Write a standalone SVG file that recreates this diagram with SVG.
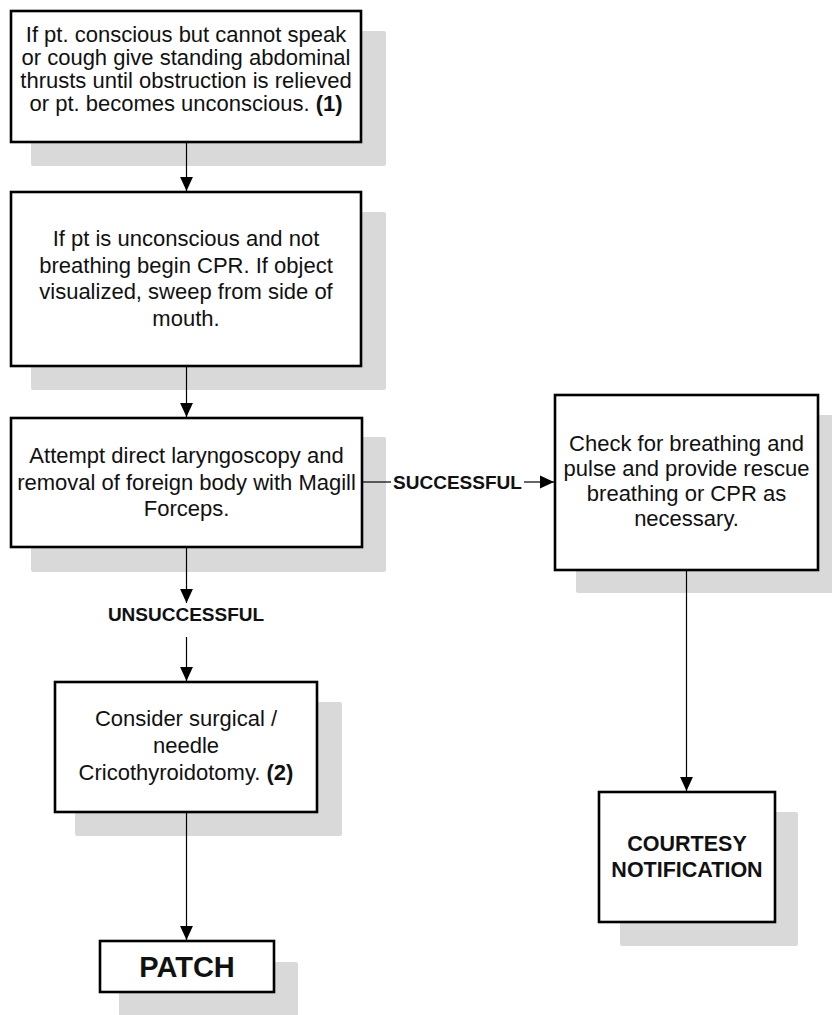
<svg xmlns="http://www.w3.org/2000/svg" width="832" height="1015" viewBox="0 0 832 1015">
  <style>
    .shadow { fill: #d9d9d9; }
    .box { fill: #ffffff; stroke: #000000; stroke-width: 2.6; }
    .txt { font-family: "Liberation Sans", Arial, sans-serif; font-size: 22px; fill: #111111; text-anchor: middle; }
    .b { font-weight: bold; }
    .lbl { font-family: "Liberation Sans", Arial, sans-serif; font-size: 19px; font-weight: bold; fill: #111111; text-anchor: middle; }
    .edge { fill: none; stroke: #000000; stroke-width: 1.2; }
  </style>
  <defs>
    <marker id="arrow" markerUnits="userSpaceOnUse" markerWidth="14" markerHeight="14" viewBox="0 0 12 12" refX="12" refY="6" orient="auto">
      <path d="M0,0.5 L12,6 L0,11.5 Z" fill="#000000"/>
    </marker>
  </defs>

  <rect width="832" height="1015" fill="#ffffff"/>

  <!-- step 1: standing abdominal thrusts -->
  <g id="node-thrusts">
    <rect class="shadow" x="31" y="31" width="355" height="135" rx="2"/>
    <rect class="box" x="11" y="11" width="350" height="131"/>
    <text class="txt" x="186" y="42">If pt. conscious but cannot speak<tspan x="186" dy="23">or cough give standing abdominal</tspan><tspan x="186" dy="23">thrusts until obstruction is relieved</tspan><tspan x="186" dy="23">or pt. becomes unconscious. <tspan class="b">(1)</tspan></tspan></text>
  </g>

  <!-- step 2: CPR -->
  <g id="node-cpr">
    <rect class="shadow" x="31" y="212" width="355" height="178" rx="2"/>
    <rect class="box" x="11" y="192" width="350" height="174"/>
    <text class="txt" x="186" y="246">If pt is unconscious and not<tspan x="186" dy="26.5">breathing begin CPR. If object</tspan><tspan x="186" dy="26.5">visualized, sweep from side of</tspan><tspan x="186" dy="26.5">mouth.</tspan></text>
  </g>

  <!-- step 3: direct laryngoscopy -->
  <g id="node-laryngoscopy">
    <rect class="shadow" x="31" y="437" width="355" height="135" rx="2"/>
    <rect class="box" x="11" y="418" width="351" height="129"/>
    <text class="txt" x="186.5" y="463">Attempt direct laryngoscopy and<tspan x="186.5" dy="26.5">removal of foreign body with Magill</tspan><tspan x="186.5" dy="26.5">Forceps.</tspan></text>
  </g>

  <!-- success branch -->
  <g id="node-check">
    <rect class="shadow" x="576" y="415" width="266" height="178" rx="2"/>
    <rect class="box" x="555" y="395" width="263" height="175"/>
    <text class="txt" x="686.5" y="451">Check for breathing and<tspan x="686.5" dy="25">pulse and provide rescue</tspan><tspan x="686.5" dy="25">breathing or CPR as</tspan><tspan x="686.5" dy="25">necessary.</tspan></text>
  </g>

  <g id="node-courtesy">
    <rect class="shadow" x="620" y="812" width="178" height="134" rx="2"/>
    <rect class="box" x="599" y="792" width="176" height="130"/>
    <text class="txt b" x="687" y="851" style="font-size:21.5px">COURTESY<tspan x="687" dy="26">NOTIFICATION</tspan></text>
  </g>

  <!-- failure branch -->
  <g id="node-cricothyroidotomy">
    <rect class="shadow" x="75" y="702" width="267" height="134" rx="2"/>
    <rect class="box" x="55" y="682" width="262" height="130"/>
    <text class="txt" x="186" y="726">Consider surgical /<tspan x="186" dy="27">needle</tspan><tspan x="186" dy="27">Cricothyroidotomy. <tspan class="b">(2)</tspan></tspan></text>
  </g>

  <g id="node-patch">
    <rect class="shadow" x="119" y="962" width="179" height="55" rx="2"/>
    <rect class="box" x="100" y="941" width="174" height="51"/>
    <text class="txt b" x="187" y="977" style="font-size:29px">PATCH</text>
  </g>

  <!-- connectors -->
  <g id="connectors">
    <line class="edge" x1="186.5" y1="143" x2="186.5" y2="191" marker-end="url(#arrow)"/>
    <line class="edge" x1="186.5" y1="367" x2="186.5" y2="417" marker-end="url(#arrow)"/>
    <line class="edge" x1="186.5" y1="548" x2="186.5" y2="603" marker-end="url(#arrow)"/>
    <text class="lbl" x="186" y="621">UNSUCCESSFUL</text>
    <line class="edge" x1="186.5" y1="637" x2="186.5" y2="681" marker-end="url(#arrow)"/>
    <line class="edge" x1="186.5" y1="813" x2="186.5" y2="940" marker-end="url(#arrow)"/>
    <line class="edge" x1="363" y1="482" x2="391" y2="482"/>
    <text class="lbl" x="457.5" y="488.5">SUCCESSFUL</text>
    <line class="edge" x1="524" y1="482" x2="554" y2="482" marker-end="url(#arrow)"/>
    <line class="edge" x1="686.5" y1="571" x2="686.5" y2="791" marker-end="url(#arrow)"/>
  </g>
</svg>
